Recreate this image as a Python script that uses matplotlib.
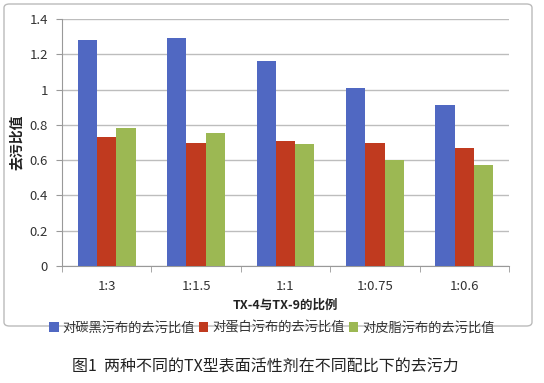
import matplotlib
matplotlib.use("Agg")
import matplotlib.pyplot as plt
import numpy as np
from matplotlib.patches import FancyBboxPatch

plt.rcParams['font.family'] = ['Noto Sans CJK SC', 'DejaVu Sans']

categories = ['1:3', '1:1.5', '1:1', '1:0.75', '1:0.6']
carbon = [1.28, 1.29, 1.16, 1.01, 0.91]
protein = [0.73, 0.70, 0.71, 0.70, 0.67]
sebum = [0.78, 0.755, 0.69, 0.60, 0.57]
series_names = ['对碳黑污布的去污比值', '对蛋白污布的去污比值', '对皮脂污布的去污比值']
yticks = [0, 0.2, 0.4, 0.6, 0.8, 1, 1.2, 1.4]
ytick_labels = ['0', '0.2', '0.4', '0.6', '0.8', '1', '1.2', '1.4']

colors = ['#5068C2', '#C03A1F', '#9CB853']

W, H = 544, 383
fig = plt.figure(figsize=(W/100, H/100), dpi=100)

# outer chart border
border = FancyBboxPatch((4/W, 1-326/H), 528/W, 322/H, boxstyle="round,pad=0,rounding_size=0.01",
                        transform=fig.transFigure, fill=False, edgecolor='#BBBBBB', linewidth=1.0)
fig.add_artist(border)

ax = fig.add_axes([62/W, 1-266/H, (509-62)/W, (266-19)/H])
x = np.arange(len(categories))
bw = 0.216
for i, (vals, c) in enumerate(zip([carbon, protein, sebum], colors)):
    ax.bar(x + (i-1)*bw, vals, width=bw, color=c, label=series_names[i], zorder=3)

ax.set_xlim(-0.5, len(categories)-0.5)
ax.set_ylim(0, 1.4)
ax.set_yticks(yticks)
ax.set_yticklabels(ytick_labels)
ax.yaxis.grid(True, color='#BDBDBD', linewidth=1.0, zorder=0)
ax.set_axisbelow(True)
ax.set_xticks(x)
ax.set_xticklabels(categories)
ax.set_xticks(np.arange(-0.5, len(categories)), minor=True)
ax.tick_params(axis='x', which='major', length=0, pad=10, labelsize=9.5, colors='#333333')
ax.tick_params(axis='x', which='minor', length=4, color='#999999', direction='out')
ax.tick_params(axis='y', length=4, color='#999999', labelsize=9.5, colors='#333333', pad=6)
for s in ['top', 'right']:
    ax.spines[s].set_visible(False)
ax.spines['left'].set_color('#999999')
ax.spines['bottom'].set_color('#999999')

ax.set_ylabel('去污比值', fontsize=10, fontweight='bold', color='#222222', labelpad=4)
ax.set_xlabel('TX-4与TX-9的比例', fontsize=9, fontweight='bold', color='#222222', labelpad=4)

leg = fig.legend(loc='center', bbox_to_anchor=(272/W, 1-328/H), ncol=3, frameon=False,
                 fontsize=9.5, handlelength=0.7, handleheight=0.7, handletextpad=0.3,
                 columnspacing=0.3, labelcolor='#333333')

fig.text(265/W, 1-367/H, '图1  两种不同的TX型表面活性剂在不同配比下的去污力', fontsize=11.5,
         color='#222222', ha='center', va='center')

fig.savefig('out.png', dpi=100)
